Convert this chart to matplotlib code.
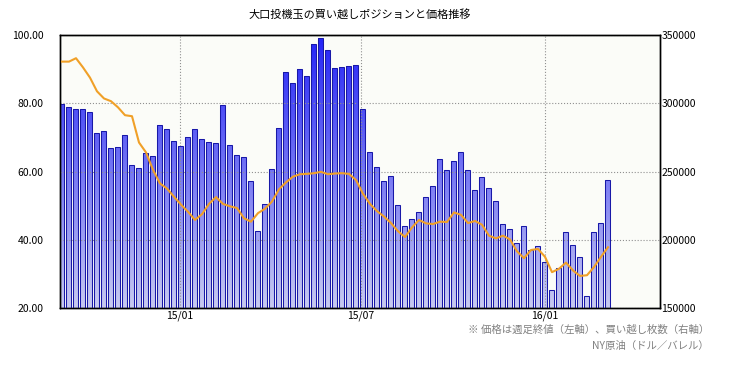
import numpy as np
import pandas as pd
import matplotlib
matplotlib.use('Agg')
from matplotlib import pyplot as plt
from matplotlib.patches import Rectangle
import matplotlib.dates as mdates

plt.rcParams['font.family'] = ['Noto Sans CJK JP', 'DejaVu Sans']

# weekly data (Friday), Sep 2014 - Mar 2016
weeks = pd.date_range('2014-09-05', periods=79, freq='7D')

# net long positions of large speculators (right axis)
net_long = [299500, 297000, 295600, 295600, 293400, 278000, 279700, 267200, 268000, 276500,
            254800, 252600, 263800, 261100, 283800, 281100, 272100, 268500, 275000, 280900,
            273800, 271400, 270700, 298500, 269200, 261900, 260600, 242800, 206200, 226200,
            251600, 281600, 322700, 314800, 324900, 319700, 343200, 347800, 339000, 325800,
            326600, 327300, 328000, 295800, 264300, 253300, 243000, 246700, 225500, 209800,
            215100, 220100, 231100, 239400, 258900, 250900, 257500, 264100, 250900, 236200,
            246000, 237700, 228200, 211300, 207700, 197400, 209800, 192500, 195600, 183700,
            163200, 179300, 205700, 195900, 187400, 158800, 205700, 212300, 243500]

# NY crude weekly close (left axis)
price = [92.2, 92.2, 93.2, 90.5, 87.5, 83.5, 81.4, 80.6, 78.8, 76.5,
         76.2, 68.5, 65.6, 60.5, 56.5, 55.0, 52.6, 50.3, 48.2, 45.8,
         47.5, 50.5, 52.5, 50.5, 49.8, 49.3, 46.3, 45.3, 47.8, 49.1,
         51.2, 54.8, 56.8, 58.5, 59.2, 59.3, 59.5, 59.9, 59.2, 59.4,
         59.5, 59.3, 57.5, 53.5, 50.5, 48.4, 46.8, 44.9, 42.5, 40.8,
         43.6, 45.8, 44.8, 44.6, 45.3, 45.2, 48.0, 47.3, 44.9, 45.5,
         44.4, 41.2, 40.4, 41.2, 40.1, 36.6, 34.6, 37.0, 37.3, 35.0,
         30.5, 31.5, 33.3, 31.0, 29.4, 29.6, 32.0, 35.0, 37.8]

price_ticks = [20, 40, 60, 80, 100]
pos_ticks = [150000, 200000, 250000, 300000, 350000]
date_ticks = ['2015-01-01', '2015-07-01', '2016-01-01']
date_labels = ['15/01', '15/07', '16/01']

fig = plt.figure(figsize=(7.32, 3.66), dpi=100)
ax = fig.add_axes([60/732, 1 - 308/366, 600/732, 273/366])
ax.set_facecolor('#fbfcf8')
ax2 = ax.twinx()

x0 = mdates.date2num(pd.Timestamp('2014-09-03'))
x1 = mdates.date2num(pd.Timestamp('2016-04-25'))
xs = mdates.date2num(weeks)

# vertical gradient, same for every bar
top = np.array([35, 35, 248]) / 255
bot = np.array([200, 202, 240]) / 255
t = np.linspace(0, 1, 256)[:, None]
grad = (top * (1 - t) + bot * t)[:, None, :]

for xc, v in zip(xs, net_long):
    r = Rectangle((xc - 2.5, 150000), 5.0, v - 150000, facecolor='none',
                  edgecolor='#1818a8', linewidth=0.75, zorder=3)
    ax.add_patch(r)
    im = ax.imshow(grad, extent=[x0, x1, 150000, 350000], aspect='auto',
                   origin='upper', zorder=2)
    im.set_clip_path(r)

ax.set_xlim(x0, x1)
ax.set_ylim(150000, 350000)
ax.yaxis.tick_right()
ax.set_yticks(pos_ticks)
ax.set_yticklabels([str(v) for v in pos_ticks])
ax.set_xticks(mdates.date2num(pd.to_datetime(date_ticks)))
ax.set_xticklabels(date_labels)
ax.tick_params(length=0, labelsize=7.5, pad=2)
ax.tick_params(axis='y', pad=1)
ax.grid(True, linestyle=':', color='#909090', linewidth=0.8, zorder=4)
ax.set_axisbelow(False)

ax2.plot(xs, price, color='#f0a028', linewidth=1.5, zorder=5)
ax2.set_ylim(20, 100)
ax2.yaxis.tick_left()
ax2.set_yticks(price_ticks)
ax2.set_yticklabels(['%.2f' % v for v in price_ticks])
ax2.tick_params(length=0, labelsize=7.5, pad=12)

for a in (ax, ax2):
    for s in a.spines.values():
        s.set_color('black')
        s.set_linewidth(1)

fig.text(360/732, 1 - 15/366, '大口投機玉の買い越しポジションと価格推移',
         ha='center', va='center', fontsize=8)
fig.text(709/732, 1 - 330/366, '※ 価格は週足終値（左軸）、買い越し枚数（右軸）',
         ha='right', va='center', fontsize=7.5, color='#808080')
fig.text(709/732, 1 - 346/366, 'NY原油（ドル／バレル）',
         ha='right', va='center', fontsize=7.5, color='#808080')

fig.savefig('out.png', dpi=100)
